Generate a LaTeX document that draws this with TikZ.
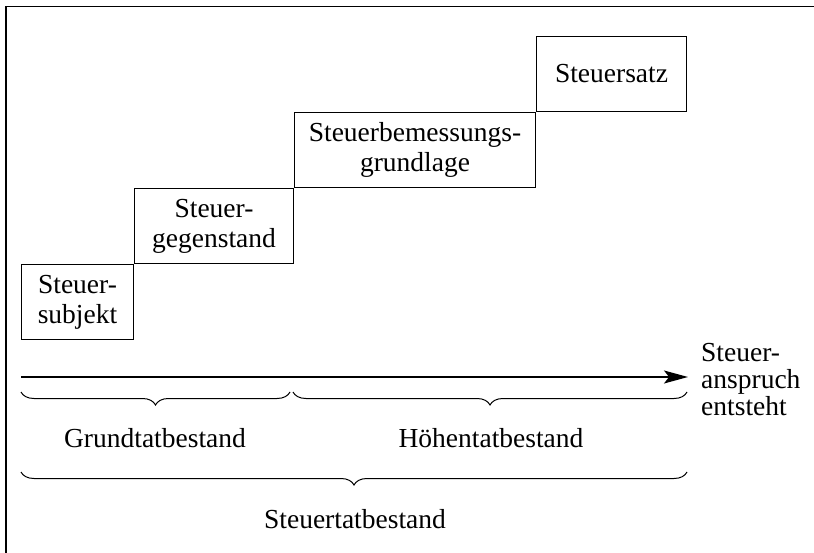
\documentclass[tikz,border=0pt]{standalone}
\usepackage{fontspec}
\setmainfont{Liberation Serif}
\usetikzlibrary{arrows.meta,positioning,decorations.pathreplacing}

\begin{document}
\begin{tikzpicture}[
  x=1pt,y=-1pt,
  font=\fontsize{27.5}{30}\selectfont,
  node distance=0pt and 0pt,
  box/.style={draw,line width=1pt,align=center,inner sep=0pt,minimum height=75pt},
  arr/.style={-{Stealth[length=24pt,width=13pt,inset=5pt]},line width=1.4pt},
  brc/.style={decorate,decoration={brace,mirror,amplitude=13pt},line width=1pt},
  lbl/.style={inner sep=0pt},
]
\useasboundingbox (0,0) rectangle (814,553);
% frame
\draw[line width=1.6pt] (6,553) -- (6,6.5) -- (814,6.5);
% stairs
\node[box,minimum width=112pt,anchor=north west] (subj) at (21,264) {Steuer-\\subjekt};
\node[box,minimum width=159pt,above right=of subj] (gegen) {Steuer-\\gegenstand};
\node[box,minimum width=241pt,above right=of gegen] (bem) {Steuerbemessungs-\\grundlage};
\node[box,minimum width=150pt,above right=of bem] (satz) {Steuersatz};
% time axis
\coordinate (t0) at (21,377);
\coordinate (t1) at (688,377);
\node[lbl,align=left,anchor=west,font=\fontsize{27.5}{27}\selectfont] (anspr) at (701,380) {Steuer-\\anspruch\\entsteht};
\draw[arr] (t0) -- (t1);
% braces
\coordinate (g0) at (21,392);
\coordinate (g1) at (290,392);
\coordinate (h0) at (293,392);
\coordinate (h1) at (687,392);
\coordinate (s0) at (21,472);
\coordinate (s1) at (687,472);
\draw[brc] (g0) -- (g1);
\draw[brc] (h0) -- (h1);
\draw[brc] (s0) -- (s1);
\node[lbl] (grund) at (155,438) {Grundtatbestand};
\node[lbl] (hoehe) at (491,438) {Höhentatbestand};
\node[lbl] (tatb) at (355,519) {Steuertatbestand};
\end{tikzpicture}
\end{document}
